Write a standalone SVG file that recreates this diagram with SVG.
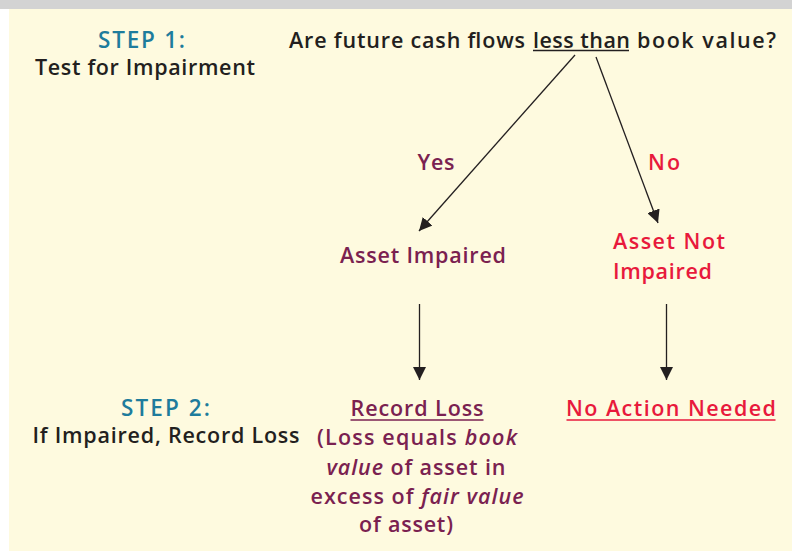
<svg xmlns="http://www.w3.org/2000/svg" width="792" height="551" viewBox="0 0 792 551">
<style>
text{font-family:"Open Sans","Liberation Sans",sans-serif;font-weight:600;font-size:21.5px}
.step{fill:#1E7C9C;font-size:22.5px}
.dark{fill:#231F20}
.pur{fill:#7A2150}
.red{fill:#E8193C}
.c{text-anchor:middle}
.ln{stroke:#231F20;stroke-width:1.3;fill:none}
.ul{stroke-width:1.6}
</style>
<defs>
<marker id="ah" viewBox="0 0 10 10" refX="10" refY="5" markerWidth="13" markerHeight="13" markerUnits="userSpaceOnUse" orient="auto">
<path d="M0,0 L10,5 L0,10 Z" fill="#231F20"/>
</marker>
</defs>
<rect x="0" y="0" width="792" height="9" fill="#D3D3D3"/>
<rect x="9" y="9" width="783" height="542" fill="#FEFADF"/>
<g id="step1">
<text class="step c" x="141.5" y="48" textLength="87">STEP 1:</text>
<text class="dark c" x="145" y="75" textLength="220">Test for Impairment</text>
</g>
<g id="question">
<text class="dark" x="289" y="48" textLength="236">Are future cash flows</text>
<text class="dark" x="533" y="48" textLength="97">less than</text>
<text class="dark" x="637" y="48" textLength="139">book value?</text>
<line class="ul" x1="533" y1="50.5" x2="629" y2="50.5" stroke="#231F20"/>
</g>
<g id="impaired">
<text class="pur c" x="423" y="263" textLength="166">Asset Impaired</text>
</g>
<g id="notimpaired">
<text class="red" x="613" y="249" textLength="112">Asset Not</text>
<text class="red" x="613" y="279" textLength="99">Impaired</text>
</g>
<g id="step2">
<text class="step c" x="165.5" y="416" textLength="89">STEP 2:</text>
<text class="dark c" x="166" y="443" textLength="267">If Impaired, Record Loss</text>
</g>
<g id="recordloss">
<text class="pur c" x="417" y="416" textLength="133">Record Loss</text>
<line class="ul" x1="350.5" y1="420" x2="483.5" y2="420" stroke="#7A2150"/>
<text class="pur c" x="417" y="445" textLength="200">(Loss equals <tspan font-style="italic">book</tspan></text>
<text class="pur c" x="416" y="475" textLength="179"><tspan font-style="italic">value</tspan> of asset in</text>
<text class="pur c" x="417" y="504" textLength="213">excess of <tspan font-style="italic">fair value</tspan></text>
<text class="pur c" x="406" y="532" textLength="94">of asset)</text>
</g>
<g id="noaction">
<text class="red c" x="671" y="416" textLength="210">No Action Needed</text>
<line class="ul" x1="566.5" y1="420" x2="775.5" y2="420" stroke="#E8193C"/>
</g>
<g id="connectors">
<line class="ln" x1="575" y1="55" x2="419" y2="231" marker-end="url(#ah)"/>
<line class="ln" x1="596" y1="57" x2="658" y2="223" marker-end="url(#ah)"/>
<line class="ln" x1="419.5" y1="304" x2="419.5" y2="380" marker-end="url(#ah)"/>
<line class="ln" x1="666.5" y1="304" x2="666.5" y2="380" marker-end="url(#ah)"/>
<text class="pur c" x="436" y="170" textLength="37">Yes</text>
<text class="red c" x="664" y="170" textLength="32">No</text>
</g>
</svg>
